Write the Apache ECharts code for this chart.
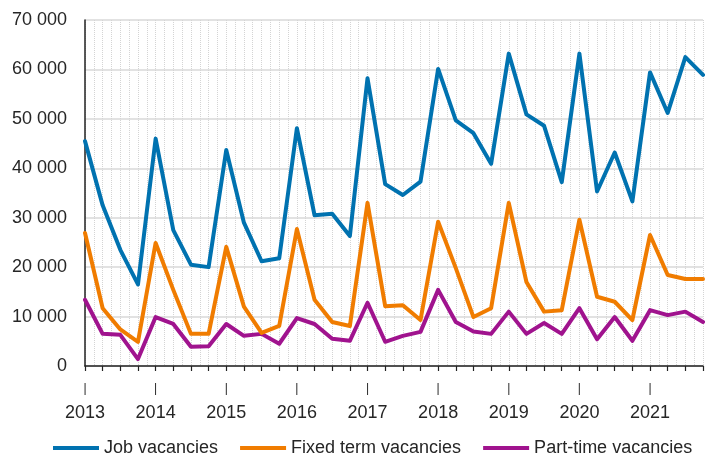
<!DOCTYPE html>
<html><head><meta charset="utf-8">
<script src="https://cdn.jsdelivr.net/npm/echarts@6/dist/echarts.min.js"></script>
<style>html,body{margin:0;padding:0;background:#fff}#c{width:706px;height:464px}</style>
</head><body><div id="c"></div>
<script>
const quarters = ['2013Q1','2013Q2','2013Q3','2013Q4','2014Q1','2014Q2','2014Q3','2014Q4','2015Q1','2015Q2','2015Q3','2015Q4','2016Q1','2016Q2','2016Q3','2016Q4','2017Q1','2017Q2','2017Q3','2017Q4','2018Q1','2018Q2','2018Q3','2018Q4','2019Q1','2019Q2','2019Q3','2019Q4','2020Q1','2020Q2','2020Q3','2020Q4','2021Q1','2021Q2','2021Q3','2021Q4'];
const jobVacancies = [45500,32500,23500,16500,46000,27500,20500,20000,43700,29000,21200,21800,48100,30500,30800,26300,58200,36800,34600,37300,60100,49700,47100,40900,63200,50900,48600,37200,63200,35300,43200,33300,59400,51200,62500,58900];
const fixedTerm = [26900,11700,7400,4900,24900,15400,6500,6500,24100,12000,6700,8100,27700,13400,8900,8100,33000,12100,12300,9300,29200,19800,9900,11700,33000,17000,11000,11300,29600,14000,13000,9300,26500,18400,17600,17600];
const partTime = [13400,6500,6300,1400,9900,8500,3900,4000,8500,6100,6500,4500,9700,8500,5500,5100,12800,4900,6100,6900,15400,8900,7000,6500,11000,6500,8700,6500,11700,5400,9900,5100,11300,10300,11000,8900];
const yTicks = [0,10000,20000,30000,40000,50000,60000,70000];
const seriesNames = ['Job vacancies','Fixed term vacancies','Part-time vacancies'];
const colors = ['#0072B0','#F07C00','#A0138E'];

const chart = echarts.init(document.getElementById('c'), null, {renderer:'canvas'});
const toPairs = arr => arr.map((v,i)=>[i,v]);
const textColor = '#262626';
const font = '"Liberation Sans", Arial, sans-serif';
chart.setOption({
  animation:false,
  color: colors,
  textStyle:{fontFamily:font},
  grid:{left:85,right:0,top:20,bottom:98,containLabel:false},
  legend:{
    bottom:2,left:48,itemGap:22,itemWidth:46,itemHeight:4,icon:'rect',
    textStyle:{fontSize:18,color:textColor,fontFamily:font},
    data:seriesNames
  },
  xAxis:{
    type:'value',min:0,max:quarters.length-1,interval:1,
    axisLine:{show:true,lineStyle:{color:'#222',width:1.5}},
    axisTick:{show:true,length:5,lineStyle:{color:'#222',width:1.2}},
    minorTick:{show:false,splitNumber:2},
    splitLine:{show:true,lineStyle:{color:'#d4d4d4',type:'dotted',width:1}},
    minorSplitLine:{show:true,lineStyle:{color:'#d4d4d4',type:'dotted',width:1}},
    axisLabel:{
      margin:14,showMinLabel:true,showMaxLabel:true,
      formatter:function(v){
        const q = quarters[Math.round(v)];
        if(!q || !q.endsWith('Q1')) return '';
        return '{b||}\n{y|'+q.slice(0,4)+'}';
      },
      rich:{
        b:{fontSize:12,lineHeight:17,color:textColor,fontFamily:font},
        y:{fontSize:18,lineHeight:32,color:textColor,fontFamily:font}
      }
    }
  },
  yAxis:{
    type:'value',min:yTicks[0],max:yTicks[yTicks.length-1],interval:10000,
    axisLine:{show:true,lineStyle:{color:'#222',width:1.5}},
    axisTick:{show:false},
    splitLine:{show:true,lineStyle:{color:'#d9d9d9',width:1.5}},
    axisLabel:{margin:18,fontSize:18,color:textColor,fontFamily:font,
      formatter:v=>String(v).replace(/\B(?=(\d{3})+(?!\d))/g,' ')}
  },
  series:[jobVacancies,fixedTerm,partTime].map((arr,k)=>({
    name:seriesNames[k],type:'line',data:toPairs(arr),showSymbol:false,symbol:'none',
    lineStyle:{width:4,color:colors[k],join:'round',cap:'round'},itemStyle:{color:colors[k]},z:3-k
  }))
});
</script></body></html>
